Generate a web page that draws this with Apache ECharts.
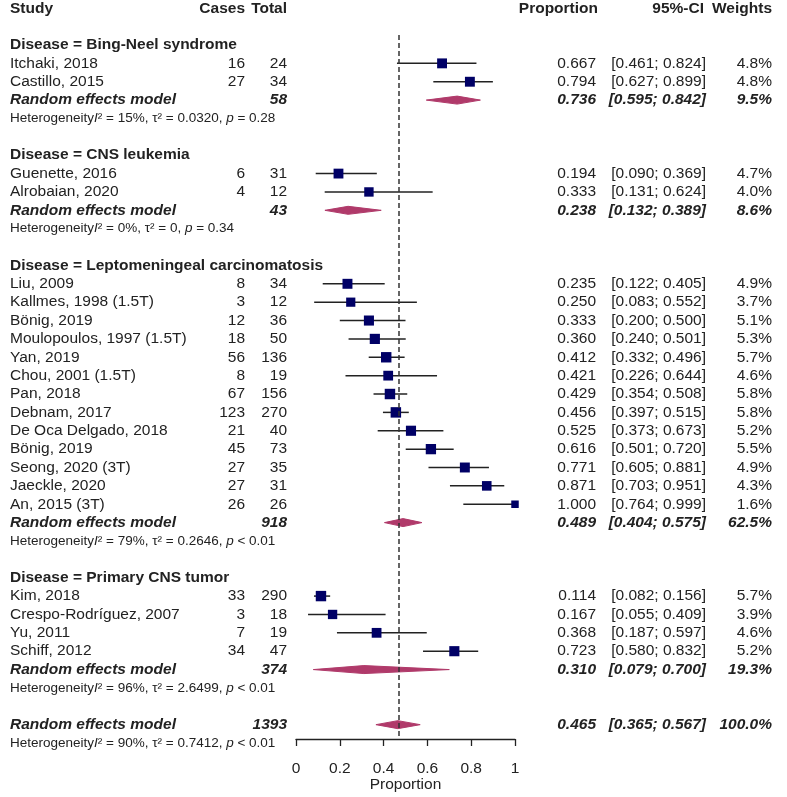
<!DOCTYPE html>
<html><head><meta charset="utf-8">
<script src="https://cdn.jsdelivr.net/npm/echarts@6/dist/echarts.min.js"></script>
<style>html,body{margin:0;padding:0;background:#fff}#c{width:787px;height:797px}</style>
</head><body><div id="c"></div>
<script>
// ---------------- data ----------------
const groupNames = ["Bing-Neel syndrome", "CNS leukemia", "Leptomeningeal carcinomatosis", "Primary CNS tumor"];
const studyNames = ["Itchaki, 2018", "Castillo, 2015", "Guenette, 2016", "Alrobaian, 2020",
  "Liu, 2009", "Kallmes, 1998 (1.5T)", "Bönig, 2019", "Moulopoulos, 1997 (1.5T)", "Yan, 2019",
  "Chou, 2001 (1.5T)", "Pan, 2018", "Debnam, 2017", "De Oca Delgado, 2018", "Bönig, 2019",
  "Seong, 2020 (3T)", "Jaeckle, 2020", "An, 2015 (3T)",
  "Kim, 2018", "Crespo-Rodríguez, 2007", "Yu, 2011", "Schiff, 2012"];
const studyGroup = [0,0, 1,1, 2,2,2,2,2,2,2,2,2,2,2,2,2, 3,3,3,3];
const studyCases = [16,27, 6,4, 8,3,12,18,56,8,67,123,21,45,27,27,26, 33,3,7,34];
const studyTotal = [24,34, 31,12, 34,12,36,50,136,19,156,270,40,73,35,31,26, 290,18,19,47];
const studyProp  = [0.667,0.794, 0.194,0.333, 0.235,0.250,0.333,0.360,0.412,0.421,0.429,0.456,0.525,0.616,0.771,0.871,1.000, 0.114,0.167,0.368,0.723];
const studyLower = [0.461,0.627, 0.090,0.131, 0.122,0.083,0.200,0.240,0.332,0.226,0.354,0.397,0.373,0.501,0.605,0.703,0.764, 0.082,0.055,0.187,0.580];
const studyUpper = [0.824,0.899, 0.369,0.624, 0.405,0.552,0.500,0.501,0.496,0.644,0.508,0.515,0.673,0.720,0.881,0.951,0.999, 0.156,0.409,0.597,0.832];
const studyWeight = [4.8,4.8, 4.7,4.0, 4.9,3.7,5.1,5.3,5.7,4.6,5.8,5.8,5.2,5.5,4.9,4.3,1.6, 5.7,3.9,4.6,5.2];

const subTotal  = [58, 43, 918, 374];
const subProp   = [0.736, 0.238, 0.489, 0.310];
const subLower  = [0.595, 0.132, 0.404, 0.079];
const subUpper  = [0.842, 0.389, 0.575, 0.700];
const subWeight = [9.5, 8.6, 62.5, 19.3];
const subI2     = ["15%", "0%", "79%", "96%"];
const subTau2   = ["0.0320", "0", "0.2646", "2.6499"];
const subP      = ["= 0.28", "= 0.34", "< 0.01", "< 0.01"];

const overallTotal = [1393];
const overallProp = [0.465];
const overallLower = [0.365];
const overallUpper = [0.567];
const overallWeight = [100.0];
const overallI2 = ["90%"];
const overallTau2 = ["0.7412"];
const overallP = ["< 0.01"];

const xTicks = [0, 0.2, 0.4, 0.6, 0.8, 1];
const headers = ["Study", "Cases", "Total", "Proportion", "95%-CI", "Weights"];

// ---------------- layout rows ----------------
const FONT = "'Liberation Sans', Arial, sans-serif";
const FS = 15.5;
const COL = { name: 10, cases: 245, total: 287, prop: 596, ci: 706, w: 772 };
const rows = [];
const studyMarks = [];
const diamondMarks = [];
let r = 0;
rows.push({ kind: 'header', row: -2 });
groupNames.forEach((g, gi) => {
  rows.push({ kind: 'group', row: r, text: 'Disease = ' + g }); r++;
  studyNames.forEach((n, i) => {
    if (studyGroup[i] !== gi) return;
    rows.push({ kind: 'study', row: r, i: i });
    studyMarks.push([studyProp[i], studyLower[i], studyUpper[i], r, studyWeight[i]]);
    r++;
  });
  rows.push({ kind: 'rem', row: r, total: subTotal[gi], p: subProp[gi], lo: subLower[gi], up: subUpper[gi], w: subWeight[gi] });
  diamondMarks.push([subProp[gi], subLower[gi], subUpper[gi], r]); r++;
  rows.push({ kind: 'het', row: r, i2: subI2[gi], tau: subTau2[gi], pv: subP[gi] }); r++;
  r++;
});
rows.push({ kind: 'rem', row: r, total: overallTotal[0], p: overallProp[0], lo: overallLower[0], up: overallUpper[0], w: overallWeight[0] });
diamondMarks.push([overallProp[0], overallLower[0], overallUpper[0], r]); r++;
rows.push({ kind: 'het', row: r, i2: overallI2[0], tau: overallTau2[0], pv: overallP[0] });

const ci = (lo, up) => '[' + lo.toFixed(3) + '; ' + up.toFixed(3) + ']';
const TXT = '#222';
function txt(s, x, y, align, opt) {
  return { type: 'text', style: Object.assign({ text: s, x: x, y: y, align: align, verticalAlign: 'middle',
    fontSize: FS, fontFamily: FONT, fill: TXT }, opt || {}) };
}

function renderTable(params, api) {
  const row = rows[params.dataIndex];
  const y = api.coord([0, api.value(1)])[1];
  const ch = [];
  const B = { fontWeight: 'bold' };
  const BI = { fontWeight: 'bold', fontStyle: 'italic' };
  if (row.kind === 'header') {
    ch.push(txt(headers[0], COL.name, y, 'left', B));
    ch.push(txt(headers[1], COL.cases, y, 'right', B));
    ch.push(txt(headers[2], COL.total, y, 'right', B));
    ch.push(txt(headers[3], COL.prop + 2, y, 'right', B));
    ch.push(txt(headers[4], COL.ci - 2, y, 'right', B));
    ch.push(txt(headers[5], COL.w, y, 'right', B));
  } else if (row.kind === 'group') {
    ch.push(txt(row.text, COL.name, y, 'left', B));
  } else if (row.kind === 'study') {
    const i = row.i;
    ch.push(txt(studyNames[i], COL.name, y, 'left'));
    ch.push(txt(String(studyCases[i]), COL.cases, y, 'right'));
    ch.push(txt(String(studyTotal[i]), COL.total, y, 'right'));
    ch.push(txt(studyProp[i].toFixed(3), COL.prop, y, 'right'));
    ch.push(txt(ci(studyLower[i], studyUpper[i]), COL.ci, y, 'right'));
    ch.push(txt(studyWeight[i].toFixed(1) + '%', COL.w, y, 'right'));
  } else if (row.kind === 'rem') {
    ch.push(txt('Random effects model', COL.name, y, 'left', BI));
    ch.push(txt(String(row.total), COL.total, y, 'right', BI));
    ch.push(txt(row.p.toFixed(3), COL.prop, y, 'right', BI));
    ch.push(txt(ci(row.lo, row.up), COL.ci, y, 'right', BI));
    ch.push(txt(row.w.toFixed(1) + '%', COL.w, y, 'right', BI));
  } else if (row.kind === 'het') {
    ch.push({ type: 'text', style: {
      text: '{n|Heterogeneity}{i|I}{n|² = ' + row.i2 + ', τ² = ' + row.tau + ', }{i|p}{n| ' + row.pv + '}',
      x: COL.name, y: y, align: 'left', verticalAlign: 'middle',
      rich: { n: { fontSize: 13.5, fontFamily: FONT, fill: TXT }, i: { fontSize: 13.5, fontFamily: FONT, fontStyle: 'italic', fill: TXT } }
    } });
  }
  return { type: 'group', children: ch };
}

function renderStudy(params, api) {
  const p = api.coord([api.value(0), api.value(3)]);
  const lo = api.coord([api.value(1), api.value(3)]);
  const up = api.coord([api.value(2), api.value(3)]);
  const s = 2.6 * Math.sqrt(api.value(4)) + 4.2;
  return { type: 'group', children: [
    { type: 'line', shape: { x1: lo[0], y1: p[1], x2: up[0], y2: p[1] }, style: { stroke: '#222', lineWidth: 1.5 } },
    { type: 'rect', shape: { x: p[0] - s / 2, y: p[1] - s / 2, width: s, height: s }, style: { fill: '#000066' } }
  ] };
}

function renderDiamond(params, api) {
  const p = api.coord([api.value(0), api.value(3)]);
  const lo = api.coord([api.value(1), api.value(3)]);
  const up = api.coord([api.value(2), api.value(3)]);
  const h = 4;
  return { type: 'polygon', shape: { points: [[lo[0], p[1]], [p[0], p[1] - h], [up[0], p[1]], [p[0], p[1] + h]] },
    style: { fill: '#b03a6a', stroke: '#b03a6a', lineWidth: 1 } };
}

const chart = echarts.init(document.getElementById('c'), null, { renderer: 'canvas' });
chart.setOption({
  animation: false,
  backgroundColor: '#fff',
  grid: { left: 296, width: 219, top: 35, bottom: 58, containLabel: false, outerBoundsMode: 'none' },
  xAxis: {
    type: 'value', min: xTicks[0], max: xTicks[xTicks.length - 1], interval: 0.2,
    splitLine: { show: false },
    axisLine: { show: true, onZero: false, lineStyle: { color: '#222', width: 1.3 } },
    axisTick: { show: true, length: 7, lineStyle: { color: '#222', width: 1.3 } },
    axisLabel: { fontSize: FS, color: TXT, margin: 22, fontFamily: FONT, showMinLabel: true, showMaxLabel: true },
    name: 'Proportion', nameLocation: 'middle', nameGap: 38, nameMoveOverlap: false,
    nameTextStyle: { fontSize: FS, color: TXT, fontFamily: FONT }
  },
  yAxis: { type: 'value', min: -0.544, max: 37.78, inverse: true, show: false },
  series: [
    { type: 'custom', name: 'table', clip: false, renderItem: renderTable, data: rows.map(o => [0, o.row]), silent: true },
    { type: 'custom', name: 'studies', clip: false, renderItem: renderStudy, data: studyMarks, silent: true,
      markLine: { silent: true, symbol: 'none', label: { show: false },
        lineStyle: { type: [5, 3], color: '#333', width: 1.5 }, data: [{ xAxis: overallProp[0] }] } },
    { type: 'custom', name: 'diamonds', clip: false, renderItem: renderDiamond, data: diamondMarks, silent: true }
  ]
});
</script></body></html>
